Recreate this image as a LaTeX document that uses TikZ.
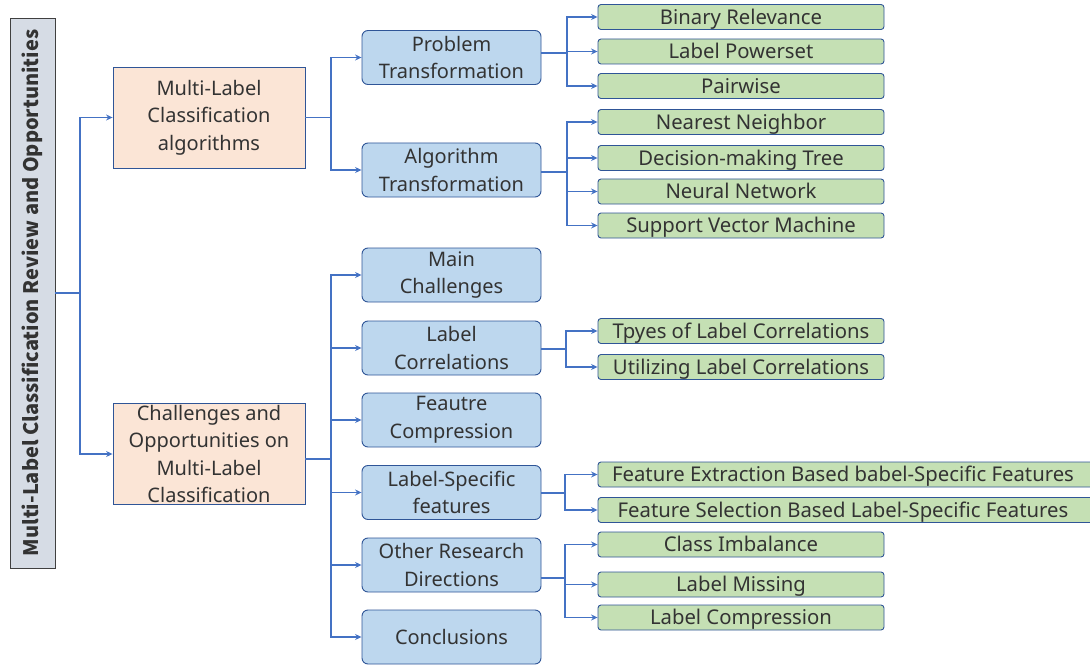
\documentclass[tikz,border=0pt]{standalone}
\usepackage{fontspec}
\setmainfont{Noto Sans}
\newfontfamily\rootfont{Noto Sans CJK SC}
\usetikzlibrary{arrows.meta,calc}
\definecolor{conn}{HTML}{4472C4}
\definecolor{edge}{HTML}{2F5597}
\definecolor{gfill}{HTML}{C5E0B4}
\definecolor{bfill}{HTML}{BDD7EE}
\definecolor{ofill}{HTML}{FBE5D6}
\definecolor{rfill}{HTML}{D6DCE5}
\definecolor{txt}{HTML}{333333}
\tikzset{
  base/.style={draw=edge, line width=0.9pt, text=txt, align=center, inner sep=1pt, font=\fontsize{20}{27.5}\selectfont},
  rootbox/.style={base, draw=black!75, fill=rfill, minimum width=45, minimum height=550, font=\rootfont\bfseries\fontsize{20}{24}\selectfont},
  obox/.style={base, fill=ofill, minimum width=192, minimum height=101},
  bbox/.style={base, fill=bfill, rounded corners=6pt, minimum width=179, minimum height=54},
  gbox/.style={base, fill=gfill, rounded corners=3pt, minimum width=286, minimum height=25, text height=14.5, text depth=-1, font=\fontsize{20.3}{22}\selectfont},
  wbox/.style={gbox, minimum width=497},
  line/.style={draw=conn, line width=1.3pt},
  arr/.style={line, -{Stealth[length=6.5pt,width=6pt]}},
}
\begin{document}
\begin{tikzpicture}[x=1pt,y=-1pt]
\useasboundingbox (0,0) rectangle (1090,666);
% root
\node[rootbox] (root) at (32.5,293) {\rotatebox{90}{Multi-Label Classification Review and Opportunities}};
% level 1
\node[obox] (mlc) at (209,117.5) {\raisebox{-2pt}{\parbox{190pt}{\centering Multi-Label\\Classification\\algorithms}}};
\node[obox] (cho) at (209,454) {Challenges and\\Opportunities on\\Multi-Label\\Classification};
% level 2 (top)
\node[bbox] (pt) at (451.5,57.5) {Problem\\Transformation};
\node[bbox] (at) at (451.5,170) {Algorithm\\Transformation};
% level 2 (bottom)
\node[bbox] (mc) at (451.5,275) {Main\\Challenges};
\node[bbox] (lc) at (451.5,348) {Label\\Correlations};
\node[bbox] (fc) at (451.5,420) {Feautre\\Compression};
\node[bbox] (ls) at (451.5,492.5) {Label-Specific\\features};
\node[bbox] (or) at (451.5,565) {Other Research\\Directions};
\node[bbox] (cc) at (451.5,637) {Conclusions};
% level 3
\node[gbox] (br) at (741,17) {Binary Relevance};
\node[gbox] (lp) at (741,51.5) {Label Powerset};
\node[gbox] (pw) at (741,86) {Pairwise};
\node[gbox] (nn) at (741,122) {Nearest Neighbor};
\node[gbox] (dt) at (741,158) {Decision-making Tree};
\node[gbox] (ne) at (741,191.5) {Neural Network};
\node[gbox] (sv) at (741,225.5) {Support Vector Machine};
\node[gbox] (tl) at (741,331) {Tpyes of Label Correlations};
\node[gbox] (ul) at (741,367) {Utilizing Label Correlations};
\node[wbox] (fe) at (846.5,474.5) {Feature Extraction Based babel-Specific Features\hspace{7pt}};
\node[wbox] (fs) at (846.5,510) {Feature Selection Based Label-Specific Features\hspace{7pt}};
\node[gbox] (ci) at (741,544.5) {Class Imbalance};
\node[gbox] (lm) at (741,584.5) {Label Missing};
\node[gbox] (lco) at (741,617.5) {Label Compression};
% connectors
\coordinate (j0) at (80,293);
\draw[line] (root.east) -- (j0);
\foreach \t in {mlc,cho} \draw[arr] (j0) |- (\t.west);
\coordinate (j1) at (331,117.5);
\draw[line] (mlc.east) -- (j1);
\foreach \t in {pt,at} \draw[arr] (j1) |- (\t.west);
\coordinate (j2) at (331,459);
\draw[line] ($(cho.east)+(0,5)$) -- (j2);
\foreach \t in {mc,lc,fc,ls,or,cc} \draw[arr] (j2) |- (\t.west);
\coordinate (j3) at (567,53);
\draw[line] ($(pt.east)+(0,-4.5)$) -- (j3);
\foreach \t in {br,lp,pw} \draw[arr] (j3) |- (\t.west);
\coordinate (j4) at (567,172);
\draw[line] ($(at.east)+(0,2)$) -- (j4);
\foreach \t in {nn,dt,ne,sv} \draw[arr] (j4) |- (\t.west);
\coordinate (j5) at (566,349);
\draw[line] ($(lc.east)+(0,1)$) -- (j5);
\foreach \t in {tl,ul} \draw[arr] (j5) |- (\t.west);
\coordinate (j6) at (565,493);
\draw[line] ($(ls.east)+(0,0.5)$) -- (j6);
\foreach \t in {fe,fs} \draw[arr] (j6) |- (\t.west);
\coordinate (j7) at (565,578);
\draw[line] ($(or.east)+(0,13)$) -- (j7);
\foreach \t in {ci,lm,lco} \draw[arr] (j7) |- (\t.west);
\end{tikzpicture}
\end{document}
